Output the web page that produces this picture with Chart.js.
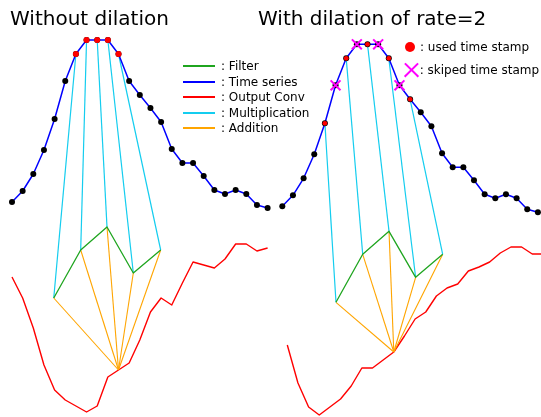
<!DOCTYPE html>
<html>
<head>
<meta charset="utf-8">
<script src="https://cdn.jsdelivr.net/npm/chart.js@4/dist/chart.umd.min.js"></script>
<style>
  html, body { margin: 0; padding: 0; background: #fff; }
  #wrap { position: relative; width: 541px; height: 417px; overflow: hidden; font-family: "DejaVu Sans", sans-serif; color: #000; }
  #c { position: absolute; left: 0; top: 0; }
  .title { position: absolute; font-size: 20px; line-height: 20px; white-space: nowrap; }
  .leg { position: absolute; height: 14px; display: flex; align-items: center; font-size: 12px; white-space: nowrap; }
  .sw { display: inline-block; width: 32px; height: 2px; margin-right: 6px; }
  .dot { display: inline-block; width: 10px; height: 10px; border-radius: 50%; background: #ff0000; margin-right: 5px; }
  .xmark { position: relative; display: inline-block; width: 14px; height: 14px; margin-right: 1px; }
  .xmark::before, .xmark::after { content: ""; position: absolute; left: -2.5px; top: 6px; width: 19px; height: 2.4px; background: #ff00ff; }
  .xmark::before { transform: rotate(45deg); }
  .xmark::after { transform: rotate(-45deg); }
</style>
</head>
<body>
<div id="wrap">
  <canvas id="c" width="541" height="417"></canvas>
  <div class="title" style="left:10px; top:8px;">Without dilation</div>
  <div class="title" style="left:258px; top:8px;">With dilation of rate=2</div>
</div>
<script>
// ---------------- data ----------------
// time steps of the input series (same series shown in both panels)
const steps = [0,1,2,3,4,5,6,7,8,9,10,11,12,13,14,15,16,17,18,19,20,21,22,23,24];
const tsValues = [215, 226, 243, 267, 298, 336, 363, 377, 377, 377, 363, 336, 322, 309, 295, 268, 254, 254, 241, 227, 223, 227, 223, 212, 209];

// filter (5 taps)
const filterValues = [119, 167, 190, 144, 167];
const filterPosLeft = [3.92, 6.45, 8.92, 11.39, 13.96];
const filterPosRight = [5.04, 7.55, 10.02, 12.52, 15.06];

// output of the convolution
const outLeft  = [140, 119, 89, 52, 27, 17, 11, 5, 11, 40, 47, 54, 77, 105, 119, 112, 134, 155, 152, 149, 158, 173, 173, 166, 169];
const outRight = [72, 34, 10, 2, 10, 18, 31, 49, 49, 57, 65, 81, 98, 105, 121, 129, 133, 146, 150, 155, 164, 170, 170, 163, 163];
const outIndex = 10;          // output sample produced by the filter

// time stamps used / skipped
const usedLeft = [6, 7, 8, 9, 10];
const usedRight = [4, 6, 8, 10, 12];
const skippedRight = [5, 7, 9, 11];

// legend labels
const legendLabels = [": Filter", ": Time series", ": Output Conv", ": Multiplication", ": Addition"];
const markerLabels = [": used time stamp", ": skiped time stamp"];

// ---------------- layout ----------------
const COLORS = { filter: '#1fa51f', ts: '#0000ff', out: '#ff0000', mult: '#14cdef', add: '#ffa500' };
const panels = [
  { x0: 0,     dy: 0,    fpos: filterPosLeft,  out: outLeft,  outX0: 0,    used: usedLeft,  skipped: [],           usedR: 3.0 },
  { x0: 25.38, dy: -4.3, fpos: filterPosRight, out: outRight, outX0: 0.47, used: usedRight, skipped: skippedRight, usedR: 2.4 }
];

const datasets = [];
function line(data, color, width, order) {
  datasets.push({ type: 'scatter', data, showLine: true, borderColor: color, backgroundColor: color,
    borderWidth: width, pointRadius: 0, tension: 0, order, clip: false, borderJoinStyle: 'round' });
}
function pts(data, color, r, order, style, bw) {
  datasets.push({ type: 'scatter', data, showLine: false, pointStyle: style || 'circle', pointRadius: r,
    pointBackgroundColor: color, pointBorderColor: color, pointBorderWidth: bw || 0, order, clip: false });
}

panels.forEach(p => {
  const ts = steps.map((s, i) => ({ x: p.x0 + s, y: tsValues[i] + p.dy }));
  const filt = p.fpos.map((fx, k) => ({ x: p.x0 + fx, y: filterValues[k] + p.dy }));
  const out = steps.map((s, i) => ({ x: p.x0 + p.outX0 + s, y: p.out[i] }));
  const conv = out[outIndex];
  line(out, COLORS.out, 1.4, 9);
  filt.forEach(f => line([f, conv], COLORS.add, 1.1, 8));
  p.used.forEach((ui, k) => line([ts[ui], filt[k]], COLORS.mult, 1.2, 7));
  line(filt, COLORS.filter, 1.3, 6);
  line(ts, COLORS.ts, 1.5, 5);
  pts(ts, '#000000', 3.0, 4);
  pts(p.used.map(i => ts[i]), '#ff0000', p.usedR, 3);
  if (p.skipped.length) {
    datasets.push({ type: 'scatter', data: p.skipped.map(i => ts[i]), showLine: false, pointStyle: 'crossRot',
      pointRadius: 7, pointBorderColor: '#ff00ff', pointBackgroundColor: '#ff00ff', pointBorderWidth: 2, order: 2, clip: false });
  }
});

new Chart(document.getElementById('c'), {
  type: 'scatter',
  data: { datasets },
  options: {
    responsive: false,
    animation: false,
    events: [],
    layout: { padding: 0, autoPadding: false },
    plugins: { legend: { display: false }, tooltip: { enabled: false }, title: { display: false } },
    scales: {
      x: { type: 'linear', display: false, min: -12 / 10.65, max: 529 / 10.65 },
      y: { type: 'linear', display: false, min: 0, max: 417 }
    }
  }
});

// ---------------- legends (HTML text) ----------------
const wrap = document.getElementById('wrap');
const legColors = [COLORS.filter, COLORS.ts, COLORS.out, COLORS.mult, COLORS.add];
const legRowsY = [66, 81.5, 97, 112.5, 128];
legendLabels.forEach((lab, i) => {
  const d = document.createElement('div');
  d.className = 'leg';
  d.style.left = '183px';
  d.style.top = (legRowsY[i] - 7) + 'px';
  d.innerHTML = '<span class="sw" style="background:' + legColors[i] + '"></span><span></span>';
  d.lastChild.textContent = lab;
  wrap.appendChild(d);
});
const mk = ['dot', 'xmark'];
const mkY = [47.3, 70];
const mkX = [405, 404.7];
markerLabels.forEach((lab, i) => {
  const d = document.createElement('div');
  d.className = 'leg';
  d.style.left = mkX[i] + 'px';
  d.style.top = (mkY[i] - 7) + 'px';
  d.innerHTML = '<span class="' + mk[i] + '"></span><span></span>';
  d.lastChild.textContent = lab;
  wrap.appendChild(d);
});
</script>
</body>
</html>
